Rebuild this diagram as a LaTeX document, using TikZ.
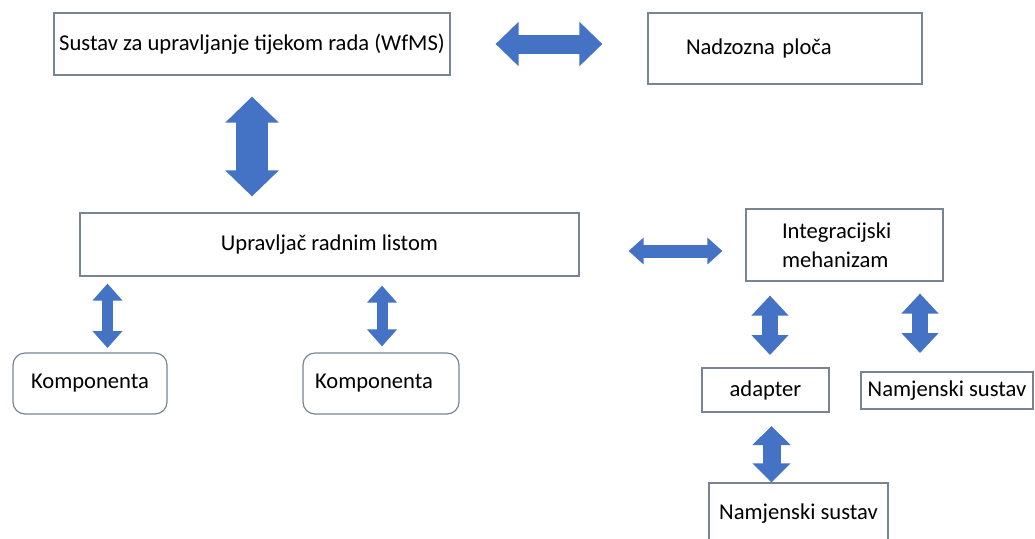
\documentclass[tikz,border=0pt]{standalone}
\usepackage{fontspec}
\setmainfont{Carlito}
\usepackage{tikz}
\usetikzlibrary{arrows.meta,calc}
\definecolor{boxline}{RGB}{120,132,146}
\definecolor{officeblue}{RGB}{68,114,196}

\begin{document}
\begin{tikzpicture}[x=0.5pt, y=-0.5pt, font=\fontsize{11.3}{13}\selectfont,
box/.style={draw=boxline, line width=0.6pt, inner sep=0pt, align=center},
rbox/.style={box, rounded corners=6pt},
dbl/.style n args={3}{draw=officeblue, line width=#1, arrows={Triangle[width=#2,length=#3,fill=officeblue]-Triangle[width=#2,length=#3,fill=officeblue]}}]
\useasboundingbox (0,0) rectangle (1035,538);
\clip (0,0) rectangle (1035,538);
\node[box, minimum width=198pt, minimum height=31pt] (wfms) at (252,44) {Sustav za upravljanje tijekom rada (WfMS)};
\node[box, minimum width=137pt, minimum height=35.5pt, align=left, text width=99pt, inner xsep=19pt] (nad) at (785,48.5) {Nadzozna ploča};
\node[box, minimum width=249.5pt, minimum height=31.5pt] (upr) at (329.5,244.5) {Upravljač radnim listom};
\node[box, minimum width=98.5pt, minimum height=36pt, align=left, text width=62.5pt, inner xsep=18pt, font=\fontsize{11.3}{14.5}\selectfont] (integ) at (844.5,245) {Integracijski\\mehanizam};
\node[box, minimum width=63.5pt, minimum height=22pt] (adapter) at (765.5,390) {adapter};
\node[box, minimum width=86pt, minimum height=18.5pt] (nam1) at (947,390.5) {Namjenski sustav};
\node[box, minimum width=89.5pt, minimum height=31pt] (nam2) at (798.5,514) {Namjenski sustav};
\node[rbox, minimum width=77pt, minimum height=30.5pt] (komp1) at (90,383.5) {Komponenta};
\node[rbox, minimum width=78pt, minimum height=30.5pt, align=left, text width=66pt, inner xsep=6pt] (komp2) at (381,383.5) {Komponenta};
% free ends of the arrows
\coordinate (k1) at (107.5,348);
\coordinate (i1) at (770,355);
\coordinate (i2) at (920,353);
\coordinate (a1) at (771.5,426);
\draw[dbl={9.5pt}{21.5pt}{11.5pt}, shorten <=22.5pt, shorten >=22.5pt] (wfms.east) -- (wfms.east -| nad.west);
\draw[dbl={16pt}{26pt}{13pt}, shorten <=10.5pt, shorten >=8pt] (wfms.south) -- (wfms.south |- upr.north);
\draw[dbl={6.5pt}{13pt}{7.5pt}, shorten <=24.5pt, shorten >=11.5pt] ($(upr.east)+(0,6.5)$) -- ($(upr.east -| integ.west)+(0,6.5)$);
\draw[dbl={5.5pt}{14.5pt}{8.5pt}, shorten <=3.5pt] (upr.south -| k1) -- (k1);
\draw[dbl={5.5pt}{14.5pt}{8.5pt}, shorten <=4.5pt, shorten >=3pt] ($(upr.south -| komp2.north)+(1,0)$) -- ($(komp2.north)+(1,0)$);
\draw[dbl={8pt}{18pt}{10pt}, shorten <=7pt] (integ.south -| i1) -- (i1);
\draw[dbl={8pt}{18pt}{10pt}, shorten <=6pt] (integ.south -| i2) -- (i2);
\draw[dbl={9pt}{18.5pt}{9.5pt}] (a1) -- (a1 |- nam2.north);
\end{tikzpicture}
\end{document}
